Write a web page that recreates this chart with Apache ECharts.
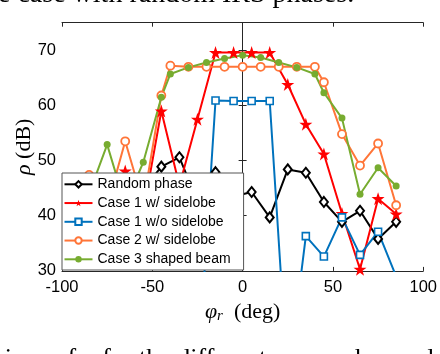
<!DOCTYPE html>
<html>
<head>
<meta charset="utf-8">
<script src="https://cdn.jsdelivr.net/npm/echarts@6/dist/echarts.min.js"></script>
<style>html,body{margin:0;padding:0;background:#fff}#c{width:440px;height:354px}</style>
</head>
<body>
<div id="c"></div>
<script>
// angles (deg)
var xOdd = [-85,-75,-65,-55,-45,-35,-25,-15,-5,5,15,25,35,45,55,65,75,85];
var xMix = [-85,-75,-65,-55,-45,-40,-30,-20,-10,0,10,20,30,40,45,55,65,75,85];
// rho (dB)
var randomPhase = [40,42,43,44.7,48.9,50.6,42.6,47.9,43.5,44.3,39.7,48.4,47.8,42.5,38.9,40.9,35.8,38.9];
var case1With   = [42,40,48.1,40.7,59.0,45.5,57.5,69.6,69.6,69.6,69.6,63.8,56.6,51.2,40.4,30.3,43.1,40.3];
var case1Without= [20,20,20,20,20,20,10,60.9,60.8,60.8,60.8,10,36.3,32.6,39.7,32.9,37.1,29];
var case2With   = [47.4,41.7,53.5,42.3,61.8,67.2,67.0,67.0,67.0,67.0,67.0,67.0,67.0,67.0,64.2,54.8,49.1,53.1,41.9];
var case3Shaped = [44,52.9,42,49.7,61.5,65.7,66.9,67.8,68.5,69.1,68.7,67.8,66.9,65.7,62.3,57.7,43.9,48.7,45.4];
var seriesNames = ['Random phase','Case 1 w/ sidelobe','Case 1 w/o sidelobe','Case 2 w/ sidelobe','Case 3 shaped beam'];
var xTicks = [-100,-50,0,50,100];
var yTicks = [30,40,50,60,70];

function pairs(xs, ys){ return xs.map(function(x,i){ return [x, ys[i]]; }); }
var star = 'path://M50,0 L61.8,35.3 L98.5,35.3 L68.8,57.1 L79.9,92.7 L50,70.6 L20.1,92.7 L31.2,57.1 L1.5,35.3 L38.2,35.3 Z';
var axisColor = '#262626';
var chart = echarts.init(document.getElementById('c'));
var common = {type:'line', lineStyle:{width:2}, showSymbol:true, clip:true, animation:false};
chart.setOption({
  animation:false,
  grid:{left:62, right:14.7, top:22.7, bottom:83.1},
  xAxis:[{
    type:'value', min:xTicks[0], max:xTicks[xTicks.length-1], interval:50,
    axisLine:{lineStyle:{color:axisColor}}, axisTick:{inside:true,length:4,lineStyle:{color:axisColor}},
    splitLine:{show:false},
    axisLabel:{color:'#000', fontSize:16.5, fontFamily:'Liberation Sans', margin:8},
    name:'{i|φ}{s|r}{n|  (deg)}', nameLocation:'middle', nameGap:25,
    nameTextStyle:{rich:{
      i:{fontFamily:'Liberation Serif', fontStyle:'italic', fontSize:22, color:'#000'},
      s:{fontFamily:'Liberation Serif', fontStyle:'italic', fontSize:15, color:'#000', verticalAlign:'bottom', padding:[9,0,0,0]},
      n:{fontFamily:'Liberation Serif', fontSize:22, color:'#000'}
    }}
  },{
    type:'value', position:'top', min:-100, max:100, interval:50,
    axisLine:{lineStyle:{color:axisColor}}, axisTick:{inside:true,length:4,lineStyle:{color:axisColor}},
    axisLabel:{show:false}, splitLine:{show:false}
  }],
  yAxis:[{
    type:'value', min:yTicks[0], max:75, interval:10,
    axisLine:{show:true, lineStyle:{color:axisColor}}, axisTick:{show:true, inside:true,length:4,lineStyle:{color:axisColor}},
    splitLine:{show:false},
    axisLabel:{color:'#000', fontSize:16.5, fontFamily:'Liberation Sans', margin:6,
      formatter:function(v){ return yTicks.indexOf(v)>=0 ? String(v) : ''; }},
    name:'{i|ρ}{n| (dB)}', nameLocation:'middle', nameGap:27, nameRotate:90, nameMoveOverlap:false,
    nameTextStyle:{rich:{
      i:{fontFamily:'Liberation Serif', fontStyle:'italic', fontSize:22, color:'#000'},
      n:{fontFamily:'Liberation Serif', fontSize:22, color:'#000'}
    }}
  },{
    type:'value', position:'right', min:30, max:75, interval:10,
    axisLine:{show:true, lineStyle:{color:axisColor}}, axisTick:{show:true, inside:true,length:4,lineStyle:{color:axisColor}},
    axisLabel:{show:false}, splitLine:{show:false}
  }],
  legend:{
    orient:'vertical', left:62, top:173, z:10,
    backgroundColor:'#fff', borderColor:'#555', borderWidth:1,
    padding:[4.3,13,3.7,1.5], itemWidth:28, itemHeight:8, itemGap:4.75,
    textStyle:{fontSize:14, fontFamily:'Liberation Sans', color:'#000', lineHeight:14},
    data:seriesNames
  },
  series:[
    Object.assign({}, common, {name:seriesNames[0], data:pairs(xOdd, randomPhase), color:'#000',
      symbol:'diamond', symbolSize:[8,10], itemStyle:{color:'#fff', borderColor:'#000', borderWidth:2}, lineStyle:{width:2,color:'#000'}}),
    Object.assign({}, common, {name:seriesNames[1], data:pairs(xOdd, case1With), color:'#FF0000',
      symbol:star, symbolSize:13, itemStyle:{color:'#FF0000'}, lineStyle:{width:2,color:'#FF0000'}}),
    Object.assign({}, common, {name:seriesNames[2], data:pairs(xOdd, case1Without), color:'#0072BD',
      symbol:'rect', symbolSize:7, itemStyle:{color:'#fff', borderColor:'#0072BD', borderWidth:1.6}, lineStyle:{width:2,color:'#0072BD'}}),
    Object.assign({}, common, {name:seriesNames[3], data:pairs(xMix, case2With), color:'#FF7538',
      symbol:'circle', symbolSize:8, itemStyle:{color:'#fff', borderColor:'#FF7538', borderWidth:1.8}, lineStyle:{width:2,color:'#FF7538'}}),
    Object.assign({}, common, {name:seriesNames[4], data:pairs(xMix, case3Shaped), color:'#77AC30',
      symbol:'circle', symbolSize:7, itemStyle:{color:'#77AC30'}, lineStyle:{width:2,color:'#77AC30'}})
  ],
  graphic:[
    {type:'text', left:-2, top:-19, style:{text:'e case with random IRS phases.', fontFamily:'Liberation Serif', fontSize:28, fill:'#000'}},
    {type:'text', left:-4, top:346, style:{text:'rison of ρ for the different approaches and', fontFamily:'Liberation Serif', fontSize:26, fill:'#000'}}
  ]
});
</script>
</body>
</html>
